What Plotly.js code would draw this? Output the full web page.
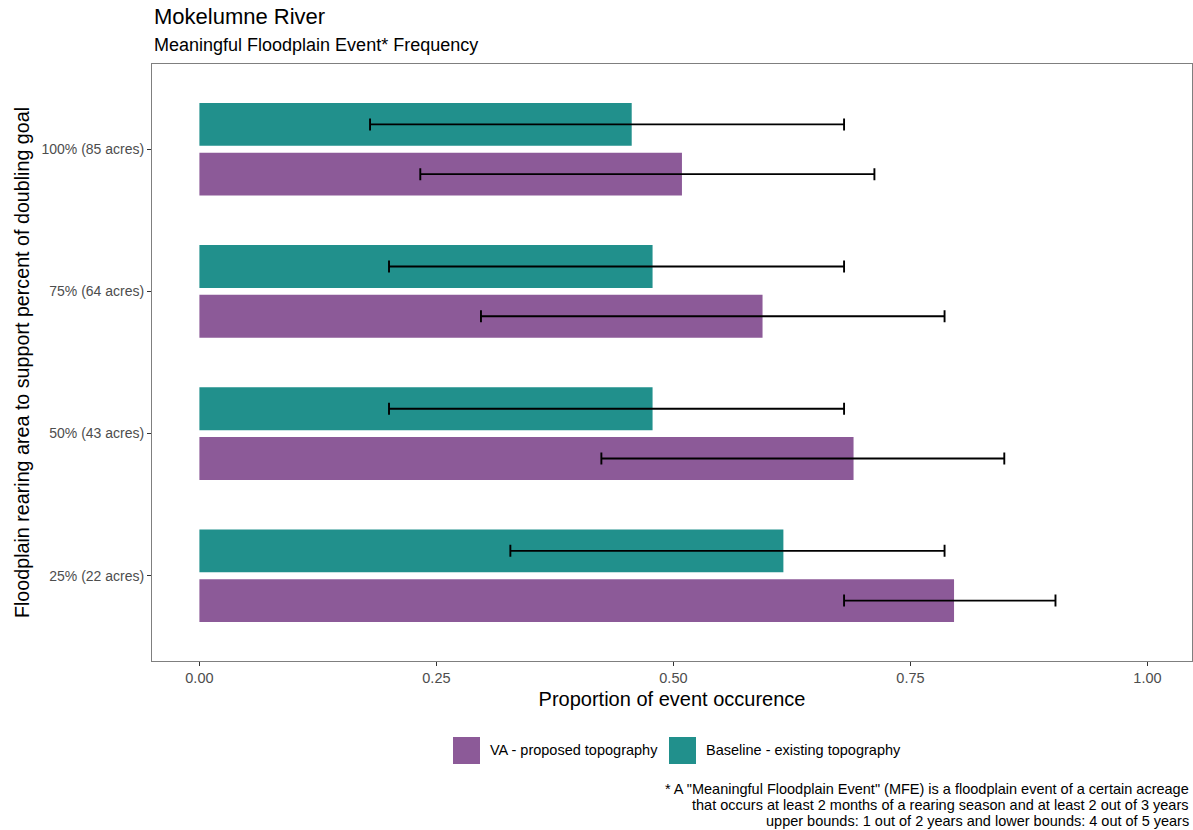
<!DOCTYPE html>
<html>
<head>
<meta charset="utf-8">
<script src="https://cdn.plot.ly/plotly-3.0.1.min.js"></script>
<style>html,body{margin:0;padding:0;background:#fff;overflow:hidden}#chart{width:1193px;height:830px}</style>
</head>
<body>
<div id="chart"></div>
<script>
// Data
const categories = ["25% (22 acres)", "50% (43 acres)", "75% (64 acres)", "100% (85 acres)"];
const baselineValues = [0.616, 0.478, 0.478, 0.456];
const baselineLower  = [0.328, 0.200, 0.200, 0.180];
const baselineUpper  = [0.786, 0.680, 0.680, 0.680];
const vaValues = [0.796, 0.690, 0.594, 0.509];
const vaLower  = [0.680, 0.424, 0.297, 0.233];
const vaUpper  = [0.903, 0.849, 0.786, 0.712];
const xTickVals = [0, 0.25, 0.5, 0.75, 1];
const xTickText = ["0.00", "0.25", "0.50", "0.75", "1.00"];
const seriesNames = ["VA - proposed topography", "Baseline - existing topography"];
const footnoteLines = [
  '* A "Meaningful Floodplain Event" (MFE) is a floodplain event of a certain acreage',
  'that occurs at least 2 months of a rearing season and at least 2 out of 3 years',
  'upper bounds: 1 out of 2 years and lower bounds: 4 out of 5 years'
];

const teal = "#21908C";
const purple = "#8C5A98";
const offset = 0.175;
const idx = categories.map((c, i) => i);

function errObj(vals, lo, hi) {
  return {
    type: "data", symmetric: false,
    array: hi.map((h, i) => h - vals[i]),
    arrayminus: lo.map((l, i) => vals[i] - l),
    color: "#000000", thickness: 1.9, width: 6
  };
}

const traces = [
  {
    type: "bar", orientation: "h", name: seriesNames[1],
    x: baselineValues, y: idx.map(i => i + offset), width: 0.302,
    marker: {color: teal, line: {width: 0}},
    error_x: errObj(baselineValues, baselineLower, baselineUpper),
    hoverinfo: "x", showlegend: false
  },
  {
    type: "bar", orientation: "h", name: seriesNames[0],
    x: vaValues, y: idx.map(i => i - offset), width: 0.302,
    marker: {color: purple, line: {width: 0}},
    error_x: errObj(vaValues, vaLower, vaUpper),
    hoverinfo: "x", showlegend: false
  }
];

const font = "Liberation Sans, Arial, sans-serif";
const pw = 1040, ph = 597;
const annotations = [
  {text: "Mokelumne River", xref: "paper", yref: "paper", x: 0, y: 1, xanchor: "left", yanchor: "bottom",
   yshift: 33, showarrow: false, font: {family: font, size: 22, color: "#000"}},
  {text: "Meaningful Floodplain Event* Frequency", xref: "paper", yref: "paper", x: 0, y: 1, xanchor: "left", yanchor: "bottom",
   yshift: 7, showarrow: false, font: {family: font, size: 18, color: "#000"}},
  {text: seriesNames[0], xref: "paper", yref: "paper", x: (488 - 152) / pw, y: 0, xanchor: "left", yanchor: "middle",
   yshift: -89, showarrow: false, font: {family: font, size: 14.5, color: "#000"}},
  {text: seriesNames[1], xref: "paper", yref: "paper", x: (704 - 152) / pw, y: 0, xanchor: "left", yanchor: "middle",
   yshift: -89, showarrow: false, font: {family: font, size: 14.5, color: "#000"}}
];
footnoteLines.forEach((t, i) => {
  annotations.push({text: t, xref: "paper", yref: "paper", x: (1191 - 152) / pw, y: 0, xanchor: "right", yanchor: "middle",
    yshift: -128 - 16 * i, showarrow: false, font: {family: font, size: 14.5, color: "#000"}});
});

// legend keys (paper coords)
const legendTop = (661 - 737) / ph;
const legendBot = (661 - 764) / ph;
const shapes = [
  {type: "rect", xref: "paper", yref: "paper", x0: (453 - 152) / pw, x1: (480 - 152) / pw, y0: legendBot, y1: legendTop,
   fillcolor: purple, line: {width: 0}},
  {type: "rect", xref: "paper", yref: "paper", x0: (669 - 152) / pw, x1: (696 - 152) / pw, y0: legendBot, y1: legendTop,
   fillcolor: teal, line: {width: 0}}
];

const layout = {
  width: 1193, height: 830,
  margin: {l: 152, r: 1, t: 64, b: 169, pad: 0},
  paper_bgcolor: "#fff", plot_bgcolor: "#fff",
  barmode: "overlay",
  showlegend: false,
  font: {family: font},
  xaxis: {
    range: [-0.05, 1.047], tickvals: xTickVals, ticktext: xTickText,
    showgrid: false, zeroline: false,
    showline: true, mirror: true, linecolor: "#7f7f7f", linewidth: 1,
    ticks: "outside", ticklen: 4, tickcolor: "#333", tickwidth: 1,
    tickfont: {family: font, size: 14.5, color: "#4d4d4d"},
    title: {text: "Proportion of event occurence", font: {family: font, size: 20, color: "#000"}, standoff: 6}
  },
  yaxis: {
    range: [-0.6, 3.6], tickvals: idx, ticktext: categories,
    showgrid: false, zeroline: false,
    showline: true, mirror: true, linecolor: "#7f7f7f", linewidth: 1,
    ticks: "outside", ticklen: 4, tickcolor: "#333", tickwidth: 1,
    tickfont: {family: font, size: 14, color: "#4d4d4d"},
    title: {text: "Floodplain rearing area to support percent of doubling goal", font: {family: font, size: 19.7, color: "#000"}, standoff: 6}
  },
  annotations: annotations,
  shapes: shapes
};

Plotly.newPlot("chart", traces, layout, {displayModeBar: false, staticPlot: true});
</script>
</body>
</html>
